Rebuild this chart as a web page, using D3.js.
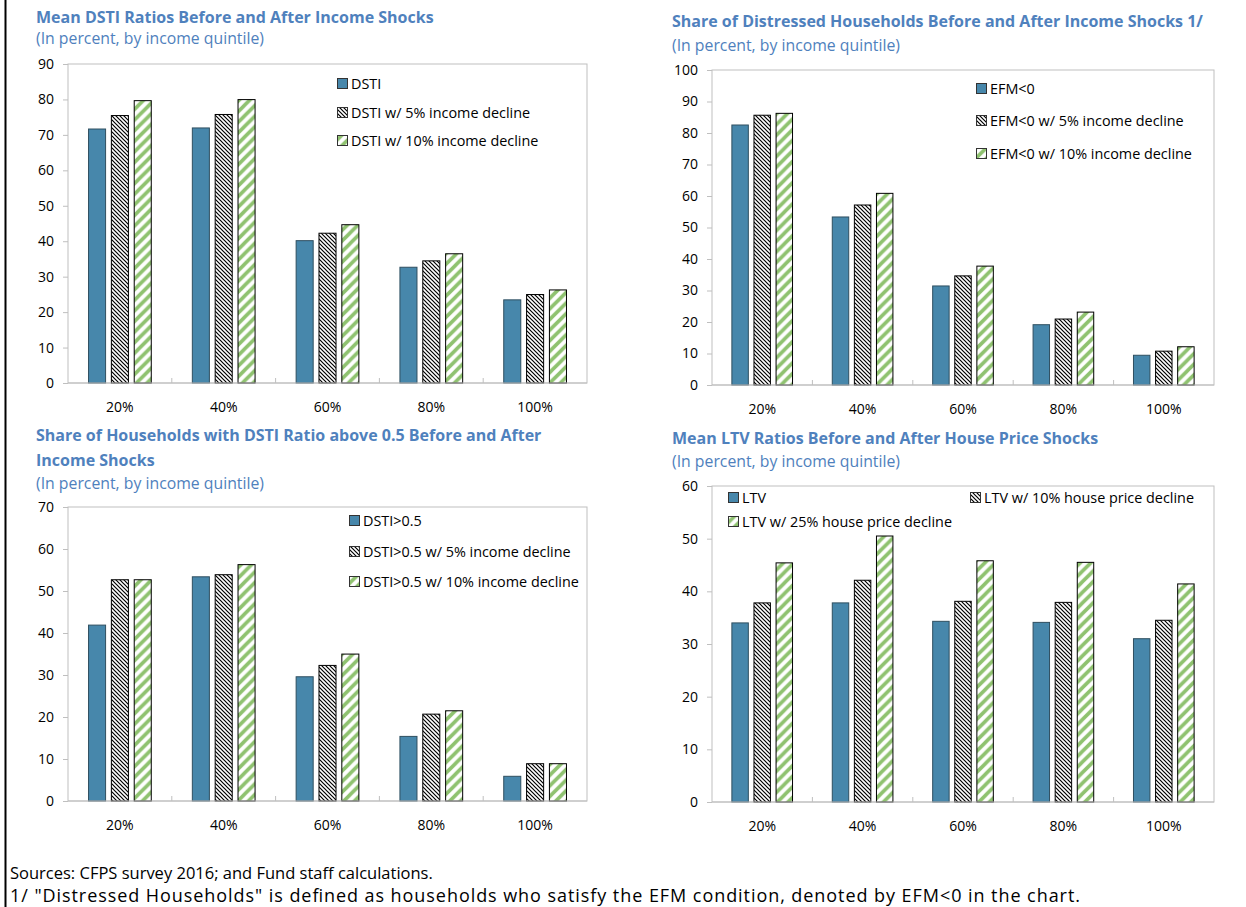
<!DOCTYPE html>
<html>
<head>
<meta charset="utf-8">
<script src="https://cdn.jsdelivr.net/npm/d3@7"></script>
<style>
  html, body { margin: 0; padding: 0; background: #fff; }
  svg { display: block; font-family: "Open Sans", "Noto Sans", sans-serif; }
</style>
</head>
<body>
<svg id="chart" width="1246" height="907"></svg>
<script>
// Income quintiles on the category axis
const quintiles = ["20%", "40%", "60%", "80%", "100%"];

// Mean DSTI ratios (percent)
const dstiMean   = [71.8, 72.1, 40.3, 32.8, 23.6];
const dstiMean5  = [75.6, 75.9, 42.4, 34.6, 25.1];
const dstiMean10 = [79.8, 80.1, 44.8, 36.6, 26.4];

// Share of distressed households, EFM<0 (percent)
const efmShare   = [82.7, 53.5, 31.6, 19.3, 9.6];
const efmShare5  = [85.8, 57.3, 34.8, 21.1, 10.9];
const efmShare10 = [86.4, 61.0, 37.9, 23.3, 12.3];

// Share of households with DSTI above 0.5 (percent)
const dstiHigh   = [42.0, 53.5, 29.7, 15.5, 6.0];
const dstiHigh5  = [52.8, 54.0, 32.4, 20.8, 9.0];
const dstiHigh10 = [52.8, 56.4, 35.1, 21.6, 9.0];

// Mean LTV ratios (percent)
const ltvMean   = [34.1, 37.9, 34.4, 34.2, 31.1];
const ltvMean10 = [37.9, 42.2, 38.2, 38.0, 34.6];
const ltvMean25 = [45.5, 50.6, 45.9, 45.6, 41.5];

// Value-axis tick labels
const ticksDstiMean = [0, 10, 20, 30, 40, 50, 60, 70, 80, 90];
const ticksEfm      = [0, 10, 20, 30, 40, 50, 60, 70, 80, 90, 100];
const ticksDstiHigh = [0, 10, 20, 30, 40, 50, 60, 70];
const ticksLtv      = [0, 10, 20, 30, 40, 50, 60];

const subtitle = "(In percent, by income quintile)";
const sourcesNote = "Sources: CFPS survey 2016; and Fund staff calculations.";
const definitionNote = "1/ \"Distressed Households\" is defined as households who satisfy the EFM condition, denoted by EFM<0 in the chart.";

const COLORS = {
  title: "#4f81bd",
  bar: "#4787ab",
  barEdge: "#2f4f60",
  stripe: "#8fc270",
  grid: "#bfbfbf",
  text: "#000"
};

const FONT = { title: 16, subtitle: 15.8, legend: 14.4, tick: 14, note: 16.5, definition: 18 };

const panels = [
  {
    title: ["Mean DSTI Ratios Before and After Income Shocks"],
    tx: 36, ty: [22.5], sy: 44,
    plot: { x0: 68, x1: 587, y0: 64, y1: 383 },
    ticks: ticksDstiMean,
    series: [
      { name: "DSTI", values: dstiMean, kind: "solid" },
      { name: "DSTI w/ 5% income decline", values: dstiMean5, kind: "hatch" },
      { name: "DSTI w/ 10% income decline", values: dstiMean10, kind: "stripe" }
    ],
    legend: [[337, 83], [337, 112], [337, 140]]
  },
  {
    title: ["Share of Distressed Households Before and After Income Shocks 1/"],
    tx: 672, ty: [27], sy: 50.5,
    plot: { x0: 712, x1: 1214, y0: 70, y1: 385 },
    ticks: ticksEfm,
    series: [
      { name: "EFM<0", values: efmShare, kind: "solid" },
      { name: "EFM<0 w/ 5% income decline", values: efmShare5, kind: "hatch" },
      { name: "EFM<0 w/ 10% income decline", values: efmShare10, kind: "stripe" }
    ],
    legend: [[976, 88], [976, 120], [976, 153]]
  },
  {
    title: ["Share of Households with DSTI Ratio above 0.5 Before and After", "Income Shocks"],
    tx: 36, ty: [441, 466], sy: 489,
    plot: { x0: 68, x1: 587, y0: 507, y1: 801 },
    ticks: ticksDstiHigh,
    series: [
      { name: "DSTI>0.5", values: dstiHigh, kind: "solid" },
      { name: "DSTI>0.5 w/ 5% income decline", values: dstiHigh5, kind: "hatch" },
      { name: "DSTI>0.5 w/ 10% income decline", values: dstiHigh10, kind: "stripe" }
    ],
    legend: [[349, 520], [349, 551], [349, 581]]
  },
  {
    title: ["Mean LTV Ratios Before and After House Price Shocks"],
    tx: 672, ty: [444], sy: 466.5,
    plot: { x0: 712, x1: 1214, y0: 486, y1: 802 },
    ticks: ticksLtv,
    series: [
      { name: "LTV", values: ltvMean, kind: "solid" },
      { name: "LTV w/ 10% house price decline", values: ltvMean10, kind: "hatch" },
      { name: "LTV w/ 25% house price decline", values: ltvMean25, kind: "stripe" }
    ],
    legend: [[728, 497], [970, 497], [728, 521]]
  }
];

const svg = d3.select("#chart");

// Fill patterns: dense black downward diagonal and wide green upward diagonal
const defs = svg.append("defs");
const hatch = defs.append("pattern")
  .attr("id", "hatch").attr("patternUnits", "userSpaceOnUse")
  .attr("width", 4).attr("height", 4);
hatch.append("rect").attr("width", 4).attr("height", 4).attr("fill", "#fff");
hatch.append("path")
  .attr("d", "M0,0L4,4M-1,3L1,5M3,-1L5,1")
  .attr("stroke", "#000").attr("stroke-width", 1.2);

const S = 10.6;
const stripe = defs.append("pattern")
  .attr("id", "stripe").attr("patternUnits", "userSpaceOnUse")
  .attr("width", S).attr("height", S);
stripe.append("rect").attr("width", S).attr("height", S).attr("fill", "#fff");
stripe.append("path")
  .attr("d", `M0,${S}L${S},0M${-S/4},${S/4}L${S/4},${-S/4}M${S*3/4},${S*5/4}L${S*5/4},${S*3/4}`)
  .attr("stroke", COLORS.stripe).attr("stroke-width", 3.6);

const fillFor = kind => kind === "solid" ? COLORS.bar : kind === "hatch" ? "url(#hatch)" : "url(#stripe)";
const edgeFor = kind => kind === "solid" ? COLORS.barEdge : "#000";

panels.forEach(p => {
  const g = svg.append("g");
  const { x0, x1, y0, y1 } = p.plot;

  // Titles
  p.title.forEach((line, i) => {
    g.append("text").attr("x", p.tx).attr("y", p.ty[i])
      .attr("font-size", FONT.title).attr("font-weight", 700)
      .attr("fill", COLORS.title).text(line);
  });
  g.append("text").attr("x", p.tx).attr("y", p.sy)
    .attr("font-size", FONT.subtitle).attr("fill", COLORS.title).text(subtitle);

  const x = d3.scaleBand().domain(quintiles).range([x0, x1]);
  const groupW = x.bandwidth() * 0.614;
  const xs = d3.scaleBand().domain(d3.range(p.series.length))
    .range([0, groupW]).paddingInner(0.21);
  const y = d3.scaleLinear().domain([0, d3.max(p.ticks)]).range([y1, y0]);

  // Plot area frame
  g.append("rect").attr("x", x0).attr("y", y0)
    .attr("width", x1 - x0).attr("height", y1 - y0)
    .attr("fill", "none").attr("stroke", COLORS.grid).attr("stroke-width", 1);

  // Value axis
  const ya = g.append("g").attr("transform", `translate(${x0},0)`)
    .call(d3.axisLeft(y).tickValues(p.ticks).tickSize(5).tickPadding(9));
  ya.select(".domain").remove();
  ya.selectAll(".tick line").attr("stroke", COLORS.grid);
  ya.selectAll(".tick text").attr("font-size", FONT.tick).attr("fill", COLORS.text)
    .attr("font-family", "\"Open Sans\", sans-serif");

  // Bars
  p.series.forEach((s, si) => {
    g.append("g").selectAll("rect").data(s.values).join("rect")
      .attr("x", (d, i) => x(quintiles[i]) + (x.bandwidth() - groupW) / 2 + xs(si) + 0.5)
      .attr("y", d => y(d) + 0.5)
      .attr("width", xs.bandwidth() - 1)
      .attr("height", d => y1 - y(d) - 0.5)
      .attr("fill", fillFor(s.kind))
      .attr("stroke", edgeFor(s.kind)).attr("stroke-width", 1);
  });

  // Category axis: baseline, separators between quintiles, labels
  g.append("line").attr("x1", x0).attr("x2", x1).attr("y1", y1).attr("y2", y1)
    .attr("stroke", COLORS.grid);
  g.append("g").selectAll("line").data(quintiles.slice(1)).join("line")
    .attr("x1", d => x(d)).attr("x2", d => x(d))
    .attr("y1", y1).attr("y2", y1 - 5)
    .attr("stroke", COLORS.grid);
  const xa = g.append("g").attr("transform", `translate(0,${y1})`)
    .call(d3.axisBottom(x).tickSize(0).tickPadding(19));
  xa.select(".domain").remove();
  xa.selectAll(".tick text").attr("font-size", FONT.tick).attr("fill", COLORS.text)
    .attr("font-family", "\"Open Sans\", sans-serif");

  // Legend
  p.series.forEach((s, si) => {
    const [lx, ly] = p.legend[si];
    g.append("rect").attr("x", lx + 0.5).attr("y", ly - 4.5)
      .attr("width", 10).attr("height", 10)
      .attr("fill", fillFor(s.kind)).attr("stroke", "#333").attr("stroke-width", 1);
    g.append("text").attr("x", lx + 14).attr("y", ly + 0.5).attr("dy", "0.35em")
      .attr("font-size", FONT.legend).attr("fill", COLORS.text).text(s.name);
  });
});

// Frame edge on the left
svg.append("line").attr("x1", 5.5).attr("x2", 5.5).attr("y1", 0).attr("y2", 907)
  .attr("stroke", "#000").attr("stroke-width", 2);

// Notes below the panels
svg.append("text").attr("x", 10).attr("y", 879)
  .attr("font-size", FONT.note).attr("fill", COLORS.text).text(sourcesNote);
svg.append("text").attr("x", 10).attr("y", 902)
  .attr("font-size", FONT.definition).attr("fill", COLORS.text)
  .attr("textLength", 1070).attr("lengthAdjust", "spacing")
  .text(definitionNote);
</script>
</body>
</html>
